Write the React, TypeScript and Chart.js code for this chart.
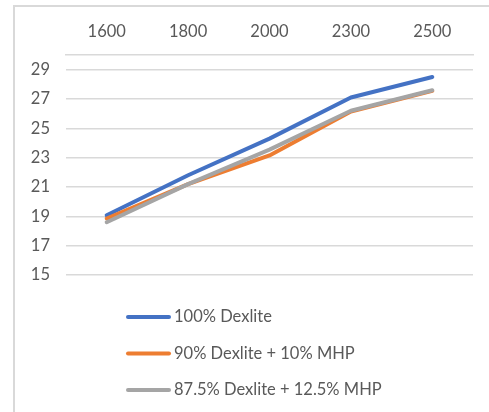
import React, { useEffect, useRef } from "react";
import { Chart, registerables } from "chart.js";

Chart.register(...registerables);

const categories = ["1600", "1800", "2000", "2300", "2500"];
const dexlite100 = [19.07, 21.8, 24.3, 27.1, 28.5];
const dexlite90mhp10 = [18.85, 21.2, 23.15, 26.15, 27.55];
const dexlite875mhp125 = [18.6, 21.2, 23.55, 26.2, 27.6];
const seriesNames = ["100% Dexlite", "90% Dexlite + 10% MHP", "87.5% Dexlite + 12.5% MHP"];
const seriesColors = ["#4472C4", "#ED7D31", "#A5A5A5"];
const yTickValues = [15, 17, 19, 21, 23, 25, 27, 29];
const yMin = 15;
const yMax = 30;

const FONT = "Lato, 'Open Sans', sans-serif";
const TEXT = "#595959";
const GRID = "#d9d9d9";
const FSIZE = 16.5;

const decor = {
  id: "decor",
  beforeDraw(chart: any) {
    const ctx = chart.ctx;
    ctx.save();
    ctx.fillStyle = "#ffffff";
    ctx.fillRect(0, 0, chart.width, chart.height);
    ctx.strokeStyle = GRID;
    ctx.lineWidth = 2;
    ctx.beginPath();
    ctx.moveTo(14, chart.height);
    ctx.lineTo(14, 6);
    ctx.lineTo(chart.width, 6);
    ctx.stroke();
    ctx.restore();
  },
  afterDraw(chart: any) {
    const ctx = chart.ctx;
    ctx.save();
    chart.data.datasets.forEach((ds: any, i: number) => {
      const y = 317 + i * 36.5;
      ctx.strokeStyle = ds.borderColor;
      ctx.lineWidth = 4;
      ctx.lineCap = "round";
      ctx.beginPath();
      ctx.moveTo(128, y);
      ctx.lineTo(169, y);
      ctx.stroke();
      ctx.fillStyle = TEXT;
      ctx.font = `${FSIZE}px ${FONT}`;
      ctx.textBaseline = "middle";
      ctx.textAlign = "left";
      ctx.fillText(ds.label, 174, y);
    });
    ctx.restore();
  },
};

export default function App() {
  const ref = useRef<HTMLCanvasElement | null>(null);

  useEffect(() => {
    if (!ref.current) return;
    const values = [dexlite100, dexlite90mhp10, dexlite875mhp125];
    const chart = new Chart(ref.current, {
      type: "line",
      data: {
        labels: categories,
        datasets: values.map((v, i) => ({
          label: seriesNames[i],
          data: v,
          borderColor: seriesColors[i],
          backgroundColor: seriesColors[i],
          borderWidth: 4,
          borderCapStyle: "round",
          borderJoinStyle: "round",
          pointRadius: 0,
          tension: 0,
          order: 2 - i,
        })),
      },
      options: {
        responsive: false,
        animation: false,
        layout: { padding: { top: 0, left: 0, right: 16, bottom: 137 } },
        plugins: {
          legend: { display: false },
          tooltip: { enabled: false },
        },
        scales: {
          x: {
            type: "category",
            position: "top",
            offset: true,
            grid: { display: false, drawTicks: false },
            border: { display: true, color: GRID, width: 1.5 },
            ticks: {
              color: TEXT,
              font: { family: FONT, size: FSIZE },
              padding: 13,
              maxRotation: 0,
            },
            afterFit(scale: any) {
              scale.height = 55;
            },
          },
          y: {
            min: yMin,
            max: yMax,
            grid: { color: GRID, lineWidth: 1.5, drawTicks: false },
            border: { display: false },
            ticks: {
              color: TEXT,
              font: { family: FONT, size: FSIZE },
              padding: 16,
            },
            afterBuildTicks(scale: any) {
              scale.ticks = yTickValues.map((v) => ({ value: v }));
            },
            afterFit(scale: any) {
              scale.width = 66;
            },
          },
        },
      },
      plugins: [decor],
    } as any);
    return () => chart.destroy();
  }, []);

  return (
    <div style={{ position: "fixed", left: 0, top: 0, width: 489, height: 412 }}>
      <canvas ref={ref} width={489} height={412} />
    </div>
  );
}
